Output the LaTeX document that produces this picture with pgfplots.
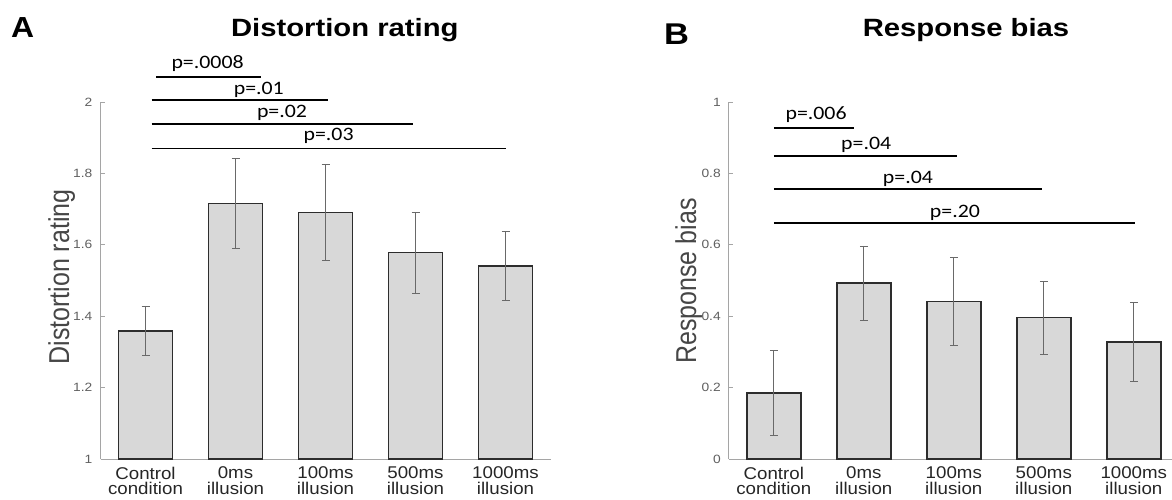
\documentclass[border=0pt]{standalone}
\usepackage{fontspec}
\setmainfont{Liberation Sans}
\newfontfamily\pfont{Carlito}
\usepackage{pgfplots}
\pgfplotsset{compat=1.18}
\definecolor{barfill}{RGB}{216,216,216}
\definecolor{baredge}{RGB}{45,45,45}
\definecolor{axgray}{RGB}{165,165,165}
\definecolor{ticktext}{RGB}{95,95,95}
\definecolor{errgray}{RGB}{105,105,105}
\definecolor{labgray}{RGB}{70,70,70}

\pgfplotsset{
  panel/.style={
    scale only axis, width=450pt, height=357pt,
    xmin=0.5, xmax=5.5,
    axis x line=bottom, axis y line=left,
    axis line style={-, axgray, line width=0.9pt},
    tick align=inside, major tick length=4pt,
    tick style={axgray, line width=0.8pt},
    xtick={1,2,3,4,5},
    xticklabels={{Control\\condition},{0ms\\illusion},{100ms\\illusion},{500ms\\illusion},{1000ms\\illusion}},
    xticklabel style={align=center, anchor=north, inner sep=0pt, yshift=-7.5pt, xscale=1.1,
      font=\fontsize{17}{15.7}\selectfont, text=black!85},
    yticklabel style={font=\fontsize{12}{14}\selectfont, text=ticktext, xscale=1.15, xshift=-3.5pt},
    /pgf/number format/assume math mode=true,
    bar width=0.6,
  },
  over/.style={
    scale only axis, width=450pt, height=357pt,
    xmin=0.5, xmax=5.5, hide axis, clip=false,
  },
  barstyle/.style={
    ybar, fill=barfill, draw=baredge, line width=1.4pt,
    error bars/.cd, y dir=both, y explicit,
    error bar style={errgray, line width=0.7pt},
    error mark options={rotate=90, errgray, mark size=4pt, line width=0.7pt},
  },
  sig/.style={black, line width=1.8pt, no marks},
}
\tikzset{plab/.style={anchor=base, xscale=1.15, font=\pfont\fontsize{19}{20}\selectfont}}

\begin{document}
\begin{tikzpicture}
\path[use as bounding box] (0pt,0pt) rectangle (1172pt,-500pt);

% ---------- Panel A ----------
\begin{axis}[panel, at={(100.5pt,-459pt)}, anchor=south west,
  ymin=1, ymax=2, ytick={1,1.2,1.4,1.6,1.8,2},
  yticklabels={1,1.2,1.4,1.6,1.8,2}]
\addplot[barstyle] coordinates {
  (1,1.359) +- (0,0.070)
  (2,1.716) +- (0,0.125)
  (3,1.690) +- (0,0.134)
  (4,1.578) +- (0,0.113)
  (5,1.541) +- (0,0.096)
};
\end{axis}
\begin{axis}[over, at={(100.5pt,-459pt)}, anchor=south west, ymin=1, ymax=2]
\addplot[sig] coordinates {(1.117,2.069) (2.283,2.069)};
\addplot[sig] coordinates {(1.069,2.005) (3.031,2.005)};
\addplot[sig] coordinates {(1.069,1.938) (3.969,1.938)};
\addplot[sig] coordinates {(1.069,1.870) (5.000,1.870)};
\node[plab] at (axis cs:1.69,2.094) {p=.0008};
\node[plab] at (axis cs:2.259,2.020) {p=.01};
\node[plab] at (axis cs:2.517,1.957) {p=.02};
\node[plab] at (axis cs:3.035,1.891) {p=.03};
\end{axis}

% ---------- Panel B ----------
\begin{axis}[panel, at={(728.8pt,-459pt)}, anchor=south west,
  ymin=0, ymax=1, ytick={0,0.2,0.4,0.6,0.8,1},
  yticklabels={0,0.2,0.4,0.6,0.8,1}]
\addplot[barstyle] coordinates {
  (1,0.185) +- (0,0.118)
  (2,0.493) +- (0,0.104)
  (3,0.441) +- (0,0.123)
  (4,0.396) +- (0,0.102)
  (5,0.328) +- (0,0.110)
};
\end{axis}
\begin{axis}[over, at={(728.8pt,-459pt)}, anchor=south west, ymin=0, ymax=1]
\addplot[sig] coordinates {(1.00,0.928) (1.89,0.928)};
\addplot[sig] coordinates {(1.00,0.849) (3.03,0.849)};
\addplot[sig] coordinates {(1.00,0.756) (3.98,0.756)};
\addplot[sig] coordinates {(1.00,0.660) (5.01,0.660)};
\node[plab] at (axis cs:1.47,0.951) {p=.006};
\node[plab] at (axis cs:2.027,0.866) {p=.04};
\node[plab] at (axis cs:2.49,0.772) {p=.04};
\node[plab] at (axis cs:3.013,0.676) {p=.20};
\end{axis}

% ---------- titles, panel letters, y labels ----------
\node[anchor=base, xscale=1.17, font=\fontsize{25}{30}\selectfont\bfseries] at (344.8pt,-37pt) {Distortion rating};
\node[anchor=base, xscale=1.17, font=\fontsize{25}{30}\selectfont\bfseries] at (966pt,-37pt) {Response bias};
\node[anchor=base west, inner sep=0pt, xscale=1.1, font=\fontsize{29}{30}\selectfont\bfseries] at (11pt,-37.7pt) {A};
\node[anchor=base west, inner sep=0pt, xscale=1.15, font=\fontsize{30}{30}\selectfont\bfseries] at (664pt,-45pt) {B};
\node[rotate=90, yscale=1.15, anchor=base, text=labgray, font=\fontsize{25}{30}\selectfont] at (69pt,-277pt) {Distortion rating};
\node[rotate=90, yscale=1.15, anchor=base, text=labgray, font=\fontsize{25}{30}\selectfont] at (696pt,-281pt) {Response bias};
\end{tikzpicture}
\end{document}
